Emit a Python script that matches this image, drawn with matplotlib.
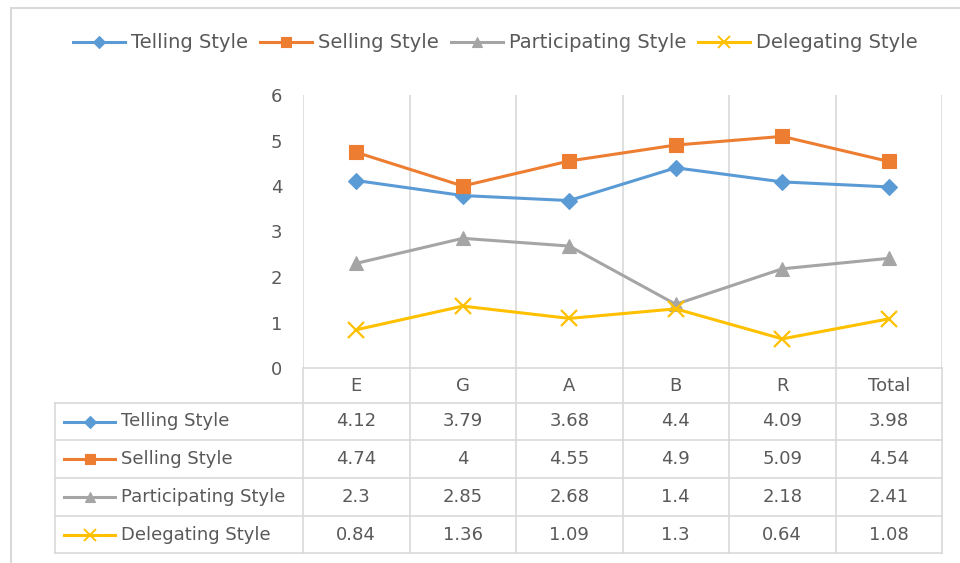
import matplotlib
matplotlib.use("Agg")
import matplotlib.pyplot as plt
from matplotlib.lines import Line2D
from matplotlib.patches import Rectangle
from matplotlib.transforms import blended_transform_factory

################################
# data
categories = ["E", "G", "A", "B", "R", "Total"]
series_names = ["Telling Style", "Selling Style", "Participating Style", "Delegating Style"]
telling = [4.12, 3.79, 3.68, 4.4, 4.09, 3.98]
selling = [4.74, 4, 4.55, 4.9, 5.09, 4.54]
participating = [2.3, 2.85, 2.68, 1.4, 2.18, 2.41]
delegating = [0.84, 1.36, 1.09, 1.3, 0.64, 1.08]
value_labels = [
    ["4.12", "3.79", "3.68", "4.4", "4.09", "3.98"],
    ["4.74", "4", "4.55", "4.9", "5.09", "4.54"],
    ["2.3", "2.85", "2.68", "1.4", "2.18", "2.41"],
    ["0.84", "1.36", "1.09", "1.3", "0.64", "1.08"],
]
yticks = [0, 1, 2, 3, 4, 5, 6]

################################
# style
colors = ["#5B9BD5", "#ED7D31", "#A5A5A5", "#FFC000"]
markers = ["D", "s", "^", "x"]
msizes = [8, 9.5, 10, 11]
legend_msizes = [6, 7, 7, 8]
text_col = "#595959"
grid_col = "#D9D9D9"
fs = 13
lw = 2.2

W, H = 960, 563
def fx(px):
    return px / W
def fy(py):
    return 1 - py / H

fig = plt.figure(figsize=(9.6, 5.63), dpi=100)

# chart border (cropped on right/bottom in the reference)
fig.patches.append(Rectangle((fx(11), -0.1), 1.2, fy(8) + 0.1, transform=fig.transFigure,
                             fill=False, edgecolor=grid_col, lw=1.5))

ax_left, ax_right, ax_top, ax_bottom = 303, 942, 95, 368
ax = fig.add_axes([fx(ax_left), fy(ax_bottom), fx(ax_right - ax_left), fy(ax_top) - fy(ax_bottom)])

x = list(range(len(categories)))
all_series = [telling, selling, participating, delegating]
for vals, name, c, m, ms in zip(all_series, series_names, colors, markers, msizes):
    ax.plot(x, vals, color=c, lw=lw, marker=m, markersize=ms,
            markeredgewidth=1.6 if m == "x" else 0.8, label=name)

ax.set_xlim(-0.5, len(categories) - 0.5)
ax.set_ylim(0, 6)
ax.set_yticks(yticks)
ax.set_yticklabels([str(t) for t in yticks], color=text_col, fontsize=fs)
ax.tick_params(axis="y", length=0, pad=15)
ax.set_xticks([])
ax.set_xticks([i - 0.5 for i in range(len(categories) + 1)], minor=True)
ax.tick_params(axis="x", which="minor", length=0)
ax.grid(True, which="minor", axis="x", color=grid_col, lw=1.2)
for s in ["left", "right", "top"]:
    ax.spines[s].set_visible(False)
ax.spines["bottom"].set_color(grid_col)
ax.spines["bottom"].set_linewidth(1.2)

################################
# data table below the plot
trans = blended_transform_factory(ax.transData, fig.transFigure)
row_lines = [403, 440, 478, 516, 553]
header_y = 386
row_centers = [421.5, 459, 497, 534.5]
tab_left = 55

for ry in row_lines:
    fig.add_artist(Line2D([fx(tab_left), fx(ax_right)], [fy(ry), fy(ry)], color=grid_col, lw=1.2))
fig.add_artist(Line2D([fx(tab_left), fx(tab_left)], [fy(row_lines[0]), fy(row_lines[-1])], color=grid_col, lw=1.2))
for i in range(len(categories) + 1):
    fig.add_artist(Line2D([i - 0.5, i - 0.5], [fy(ax_bottom), fy(row_lines[-1])], transform=trans,
                          color=grid_col, lw=1.2))

# header
for i, cat in enumerate(categories):
    fig.text(i, fy(header_y), cat, transform=trans, ha="center", va="center", color=text_col, fontsize=fs)

# rows
for r, (name, c, m, ms) in enumerate(zip(series_names, colors, markers, legend_msizes)):
    yy = fy(row_centers[r])
    fig.add_artist(Line2D([fx(64), fx(115)], [yy, yy], color=c, lw=lw))
    fig.add_artist(Line2D([fx(89.5)], [yy], color=c, marker=m, markersize=ms,
                          markeredgewidth=1.4 if m == "x" else 0.8, linestyle="none"))
    fig.text(fx(121), yy, name, ha="left", va="center", color=text_col, fontsize=fs)
    for i, lab in enumerate(value_labels[r]):
        fig.text(i, yy, lab, transform=trans, ha="center", va="center", color=text_col, fontsize=fs)

################################
# legend on top
handles = [Line2D([], [], color=c, lw=lw, marker=m, markersize=ms,
                  markeredgewidth=1.4 if m == "x" else 0.8)
           for c, m, ms in zip(colors, markers, legend_msizes)]
fig.legend(handles, series_names, loc="center", bbox_to_anchor=(0.516, fy(43)), ncol=4, frameon=False,
           fontsize=14, labelcolor=text_col, handlelength=2.7, handletextpad=0.3,
           columnspacing=0.6)

fig.savefig("out.png", dpi=100)
